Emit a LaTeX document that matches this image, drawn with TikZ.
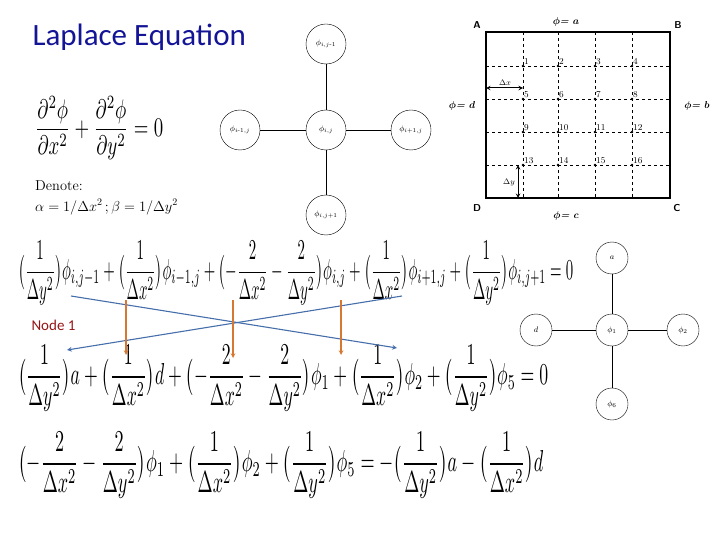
\documentclass[tikz,border=0pt]{standalone}
\usepackage{fontspec}
\usepackage{amsmath}
\usepackage{graphicx}
\newfontfamily\carl{Carlito}
\definecolor{titleblue}{RGB}{20,20,150}
\definecolor{nodered}{RGB}{150,20,20}
\definecolor{arrblue}{RGB}{70,110,170}
\definecolor{arrorange}{RGB}{215,120,50}
\begin{document}
\begin{tikzpicture}[x=1pt,y=-1pt,
  cnode/.style={draw,circle,minimum size=#1,inner sep=0pt,font=\footnotesize},
  cnode/.default=40pt,
  gridline/.style={dashed,line width=0.6pt},
  lbl/.style={font=\sffamily\bfseries},
  bval/.style={font=\normalsize\bfseries\itshape},
  eq/.style={anchor=west,inner sep=0pt},
  barrow/.style={arrblue,line width=1.1pt,-stealth},
  oarrow/.style={arrorange,line width=1.1pt,-stealth}]
\useasboundingbox (0,0) rectangle (720,540);
% title
\node[anchor=west,text=titleblue,font=\carl\fontsize{31}{34}\selectfont] (title) at (29,37) {Laplace Equation};
\node[eq] (lap) at (35,128) {\resizebox{128pt}{40pt}{$\dfrac{\partial^2\phi}{\partial x^2}+\dfrac{\partial^2\phi}{\partial y^2}=0$}};
\node[anchor=west,inner sep=0pt] (den) at (35,186) {\Large Denote:};
\node[anchor=west,inner sep=0pt] (ab) at (35,207) {\Large $\alpha=1/\Delta x^2\,;\beta=1/\Delta y^2$};
% left stencil
\node[cnode] (t) at (326,44) {$\phi_{i,j\text{-}1}$};
\node[cnode] (l) at (240,130) {$\phi_{i\text{-}1,j}$};
\node[cnode] (c) at (326,130) {$\phi_{i,j}$};
\node[cnode] (r) at (411,130) {$\phi_{i+1,j}$};
\node[cnode] (b) at (326,215) {$\phi_{i,j+1}$};
\draw (c)--(t) (c)--(l) (c)--(r) (c)--(b);
% grid
\draw[gridline] (486,66)--(670,66) (486,99)--(670,99) (486,132)--(670,132) (486,165)--(670,165);
\draw[gridline] (523,32)--(523,198) (558,32)--(558,198) (595,32)--(595,198) (632,32)--(632,198);
\draw[line width=1.6pt] (486,32) rectangle (670,198);
\foreach \n/\x/\y in {1/523/66,2/558/66,3/595/66,4/632/66,5/523/99,6/558/99,7/595/99,8/632/99,9/523/132,10/558/132,11/595/132,12/632/132,13/523/165,14/558/165,15/595/165,16/632/165}{
  \fill (\x,\y) circle (1.3pt);
  \node[anchor=south west,inner sep=1pt,font=\small] (g\n) at (\x,\y) {\n};
}
\draw[line width=1pt,<->,>=stealth] (486,88)--(523,88);
\node[font=\footnotesize,inner sep=0pt] (dx) at (505,83) {$\Delta x$};
\draw[line width=1pt,<->,>=stealth] (518,165)--(518,198);
\node[font=\footnotesize,inner sep=0pt] (dy) at (509,183) {$\Delta y$};
\node[lbl] (A) at (477,25) {A};
\node[lbl] (B) at (678,25) {B};
\node[lbl] (C) at (677,208) {C};
\node[lbl] (D) at (477,208) {D};
\node[bval] (pa) at (566,22) {$\boldsymbol\phi$= $\boldsymbol a$};
\node[bval] (pc) at (566,216) {$\boldsymbol\phi$= $\boldsymbol c$};
\node[bval] (pb) at (697,106) {$\boldsymbol\phi$= $\boldsymbol b$};
\node[bval] (pd) at (462,106) {$\boldsymbol\phi$= $\boldsymbol d$};
% right stencil
\node[cnode=32pt] (na) at (612,258) {$a$};
\node[cnode=32pt] (nd) at (536,330) {$d$};
\node[cnode=32pt] (n1) at (612,330) {$\phi_1$};
\node[cnode=32pt] (n2) at (683,330) {$\phi_2$};
\node[cnode=32pt] (n6) at (612,404) {$\phi_6$};
\draw (n1)--(na) (n1)--(nd) (n1)--(n2) (n1)--(n6);
% equations
\node[eq] (e1) at (18,273) {\resizebox{555pt}{38pt}{$\bigl(\dfrac{1}{\Delta y^2}\bigr)\phi_{i,j-1}+\bigl(\dfrac{1}{\Delta x^2}\bigr)\phi_{i-1,j}+\bigl(-\dfrac{2}{\Delta x^2}-\dfrac{2}{\Delta y^2}\bigr)\phi_{i,j}+\bigl(\dfrac{1}{\Delta x^2}\bigr)\phi_{i+1,j}+\bigl(\dfrac{1}{\Delta y^2}\bigr)\phi_{i,j+1}=0$}};
\node[eq] (e2) at (18,378) {\resizebox{530pt}{40pt}{$\bigl(\dfrac{1}{\Delta y^2}\bigr)a+\bigl(\dfrac{1}{\Delta x^2}\bigr)d+\bigl(-\dfrac{2}{\Delta x^2}-\dfrac{2}{\Delta y^2}\bigr)\phi_1+\bigl(\dfrac{1}{\Delta x^2}\bigr)\phi_2+\bigl(\dfrac{1}{\Delta y^2}\bigr)\phi_5=0$}};
\node[eq] (e3) at (18,465) {\resizebox{525pt}{40pt}{$\bigl(-\dfrac{2}{\Delta x^2}-\dfrac{2}{\Delta y^2}\bigr)\phi_1+\bigl(\dfrac{1}{\Delta x^2}\bigr)\phi_2+\bigl(\dfrac{1}{\Delta y^2}\bigr)\phi_5=-\bigl(\dfrac{1}{\Delta y^2}\bigr)a-\bigl(\dfrac{1}{\Delta x^2}\bigr)d$}};
\node[anchor=west,text=nodered,font=\carl\fontsize{15}{18}\selectfont] (node1) at (28,325) {Node 1};
% arrows
\coordinate (b1s) at (71,296); \coordinate (b1e) at (397,348);
\coordinate (b2s) at (402,296); \coordinate (b2e) at (67,350);
\draw[barrow] (b1s)--(b1e);
\draw[barrow] (b2s)--(b2e);
\coordinate (o1s) at (126,300); \coordinate (o1e) at (126,355);
\coordinate (o2s) at (233,300); \coordinate (o2e) at (233,358);
\coordinate (o3s) at (341,300); \coordinate (o3e) at (341,355);
\draw[oarrow] (o1s)--(o1e);
\draw[oarrow] (o2s)--(o2e);
\draw[oarrow] (o3s)--(o3e);
\end{tikzpicture}
\end{document}
